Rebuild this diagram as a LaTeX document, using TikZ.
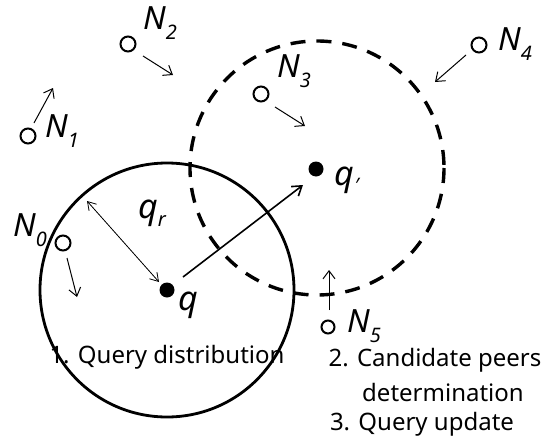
\documentclass[tikz,border=0pt]{standalone}
\usepackage{fontspec}
\setmainfont{Noto Sans}
\usetikzlibrary{arrows.meta}
\newcommand{\peerlbl}[2]{\fontsize{32}{32}\selectfont\itshape #1\raisebox{-0.32em}{\fontsize{20}{20}\selectfont #2}}
\begin{document}
\begin{tikzpicture}[x=1pt,y=-1pt,
  peer/.style={circle,draw,line width=2pt,minimum size=15pt,inner sep=0pt},
  qdot/.style={circle,fill,minimum size=15pt,inner sep=0pt},
  lbl/.style={inner sep=0pt},
  txt/.style={inner sep=0pt,font=\fontsize{24}{24}\selectfont},
  move/.style={line width=1pt,-{Straight Barb[length=8pt,width=12pt]}},
  oldarea/.style={line width=2.8pt},
  newarea/.style={line width=3.4pt,dash pattern=on 15pt off 11pt}]
\useasboundingbox (0,0) rectangle (549,447);
% query ranges
\draw[oldarea] (167,290) circle[radius=127];
\draw[newarea] (317,168) circle[radius=127];
% query points
\node[qdot] (q) at (167,290) {};
\node[qdot] (qn) at (316,169) {};
\node[lbl] (ql) at (188,305) {\fontsize{34}{34}\selectfont\itshape q};
\node[lbl] (qnl) at (347,180) {\fontsize{34}{34}\selectfont\itshape q\raisebox{-0.2em}{\fontsize{20}{20}\selectfont ′}};
\node[lbl] (qrl) at (152,213) {\fontsize{34}{34}\selectfont\itshape q\raisebox{-0.25em}{\fontsize{20}{20}\selectfont r}};
% query move and radius
\coordinate (qs) at (183,277);
\coordinate (qe) at (303,185);
\draw[line width=1.6pt,-{Straight Barb[length=9pt,width=12pt]}] (qs) -- (qe);
\coordinate (ra) at (87,201);
\coordinate (rb) at (159,282);
\draw[line width=0.8pt,{Straight Barb[length=8pt,width=10pt]}-{Straight Barb[length=8pt,width=10pt]}] (ra) -- (rb);
% peers
\node[peer] (n0) at (63,243) {};
\node[peer] (n1) at (28,136) {};
\node[peer] (n2) at (128,44) {};
\node[peer] (n3) at (261,94) {};
\node[peer] (n4) at (479,45) {};
\node[peer,minimum size=13pt] (n5) at (328,327) {};
\node[lbl] (l0) at (30,230) {\peerlbl{N}{0}};
\node[lbl] (l1) at (62,131) {\peerlbl{N}{1}};
\node[lbl] (l2) at (160,23) {\peerlbl{N}{2}};
\node[lbl] (l3) at (294,71) {\peerlbl{N}{3}};
\node[lbl] (l4) at (515,44) {\peerlbl{N}{4}};
\node[lbl] (l5) at (364,326) {\peerlbl{N}{5}};
% peer movements
\coordinate (m0a) at (67,258); \coordinate (m0b) at (77,297);
\coordinate (m1a) at (34,123); \coordinate (m1b) at (53,88);
\coordinate (m2a) at (143,56); \coordinate (m2b) at (173,75);
\coordinate (m3a) at (275,107); \coordinate (m3b) at (305,126);
\coordinate (m4a) at (466,55); \coordinate (m4b) at (435,82);
\coordinate (m5a) at (329,310); \coordinate (m5b) at (329,270);
\draw[move] (m0a) -- (m0b);
\draw[move] (m1a) -- (m1b);
\draw[move] (m2a) -- (m2b);
\draw[move] (m3a) -- (m3b);
\draw[move] (m4a) -- (m4b);
\draw[move] (m5a) -- (m5b);
% steps
\node[txt] (s1) at (167,357) {1. Query distribution};
\node[txt] (s2) at (435,360) {2. Candidate peers};
\node[txt] (s2b) at (443,392) {determination};
\node[txt] (s3) at (422,424) {3. Query update};
\end{tikzpicture}
\end{document}
